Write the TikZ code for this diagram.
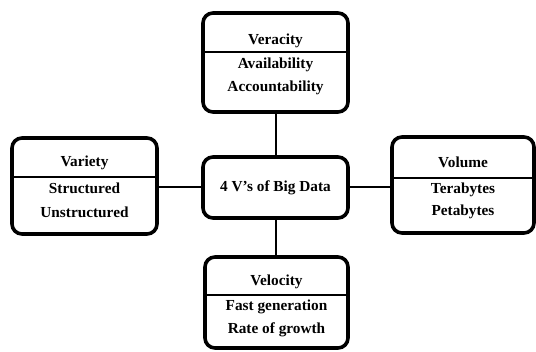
\documentclass[tikz,border=0pt]{standalone}
\usepackage{fontspec}
\setmainfont{Liberation Serif}
\usetikzlibrary{calc}

\tikzset{
  vbox/.style={draw=black, line width=3.6pt, rounded corners=10pt, fill=white, inner sep=0pt},
  link/.style={draw=black, line width=2pt},
  rule/.style={draw=black, line width=1.6pt},
  lbl/.style={font=\fontsize{15.3}{17}\selectfont\bfseries, inner sep=0pt, anchor=center},
}

\begin{document}
\begin{tikzpicture}[x=1pt, y=-1pt]
  \useasboundingbox (0,0) rectangle (536,352);
  \fill[white] (0,0) rectangle (536,352);

  % boxes
  \node[vbox, minimum width=145pt, minimum height=61pt] (hub) at (275.5,187.5) {};
  \node[vbox, minimum width=145pt, minimum height=99pt] (veracity) at (275.5,62.5) {};
  \node[vbox, minimum width=145pt, minimum height=96pt] (variety) at (84.5,186) {};
  \node[vbox, minimum width=142pt, minimum height=96pt] (volume) at (463,185) {};
  \node[vbox, minimum width=143pt, minimum height=91pt] (velocity) at (276.5,302.5) {};

  % connectors from the hub to each V
  \draw[link] (veracity.south) -- (veracity.south |- hub.north);
  \draw[link] (hub.south) -- (hub.south |- velocity.north);
  \draw[link] (hub.west) -- (hub.west -| variety.east);
  \draw[link] (hub.east) -- (hub.east -| volume.west);

  % title dividers
  \draw[rule] (veracity.west |- 0,52) -- (veracity.east |- 0,52);
  \draw[rule] (variety.west |- 0,177) -- (variety.east |- 0,177);
  \draw[rule] (volume.west |- 0,178) -- (volume.east |- 0,178);
  \draw[rule] (velocity.west |- 0,295) -- (velocity.east |- 0,295);

  % labels
  \node[lbl] (hubtxt) at (hub.center) {4 V's of Big Data};

  \node[lbl] (veracityT) at (275.5,41) {Veracity};
  \node[lbl] (veracity1) at (275.5,65) {Availability};
  \node[lbl] (veracity2) at (275.5,88) {Accountability};

  \node[lbl] (varietyT) at (84.5,163) {Variety};
  \node[lbl] (variety1) at (84.5,188) {Structured};
  \node[lbl] (variety2) at (84.5,212) {Unstructured};

  \node[lbl] (volumeT) at (463,162) {Volume};
  \node[lbl] (volume1) at (463,190) {Terabytes};
  \node[lbl] (volume2) at (463,212) {Petabytes};

  \node[lbl] (velocityT) at (276.5,282) {Velocity};
  \node[lbl] (velocity1) at (276.5,307) {Fast generation};
  \node[lbl] (velocity2) at (276.5,330) {Rate of growth};
\end{tikzpicture}
\end{document}
